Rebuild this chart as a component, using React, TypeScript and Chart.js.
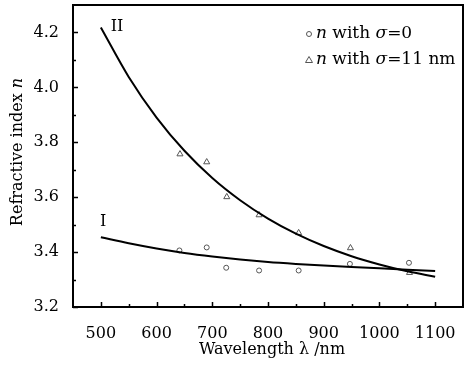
import React, { useEffect, useRef } from "react";
import { Chart, registerables } from "chart.js";

Chart.register(...registerables);

const xTicks = [500, 600, 700, 800, 900, 1000, 1100];
const yTicks = [3.2, 3.4, 3.6, 3.8, 4.0, 4.2];

const circX = [641, 690, 725, 784, 855, 947, 1053];
const circY = [3.406, 3.417, 3.343, 3.333, 3.333, 3.357, 3.361];
const triX = [642, 690, 726, 784, 855, 948, 1054];
const triY = [3.757, 3.728, 3.601, 3.535, 3.47, 3.415, 3.325];

const curveX = [500, 550, 600, 650, 700, 750, 800, 850, 900, 950, 1000, 1050, 1100];
const curveII = [4.218, 4.038, 3.89, 3.769, 3.67, 3.589, 3.522, 3.467, 3.422, 3.385, 3.355, 3.33, 3.31];
const curveI = [3.454, 3.432, 3.413, 3.397, 3.384, 3.373, 3.364, 3.357, 3.351, 3.346, 3.341, 3.336, 3.331];

const FONT = "DejaVu Serif";

const decorPlugin = {
  id: "decor",
  afterDraw(chart: any) {
    const ctx = chart.ctx;
    const { left, right, top, bottom } = chart.chartArea;
    const xs = chart.scales.x;
    const ys = chart.scales.y;
    ctx.save();
    ctx.strokeStyle = "#000";
    ctx.lineWidth = 1.5;
    ctx.beginPath();
    for (let v = 500; v <= 1100; v += 50) {
      const px = Math.round(xs.getPixelForValue(v)) + 0.5;
      const len = v % 100 === 0 ? 5 : 3;
      ctx.moveTo(px, bottom);
      ctx.lineTo(px, bottom - len);
    }
    for (let i = 0; i <= 10; i++) {
      const v = 3.2 + i * 0.1;
      const py = Math.round(ys.getPixelForValue(v)) + 0.5;
      const len = i % 2 === 0 ? 5 : 3;
      ctx.moveTo(left, py);
      ctx.lineTo(left + len, py);
    }
    ctx.stroke();
    ctx.lineWidth = 2;
    ctx.strokeRect(left, top, right - left, bottom - top);

    const drawSegs = (segs: [string, boolean][], x: number, y: number, align: string, size: number) => {
      let total = 0;
      const widths = segs.map(([t, it]) => {
        ctx.font = `${it ? "italic " : ""}${size}px "${FONT}"`;
        const w = ctx.measureText(t).width;
        total += w;
        return w;
      });
      let cx = align === "center" ? x - total / 2 : x;
      ctx.textAlign = "left";
      ctx.textBaseline = "middle";
      segs.forEach(([t, it], i) => {
        ctx.font = `${it ? "italic " : ""}${size}px "${FONT}"`;
        ctx.fillText(t, cx, y);
        cx += widths[i];
      });
    };
    ctx.fillStyle = "#000";

    drawSegs([["Wavelength ", false], ["λ", false], [" /nm", false]], 272, 350, "center", 16);
    ctx.save();
    ctx.translate(18, 152);
    ctx.rotate(-Math.PI / 2);
    drawSegs([["Refractive index ", false], ["n", true]], 0, 0, "center", 16);
    ctx.restore();

    ctx.font = `16px "${FONT}"`;
    ctx.textAlign = "center";
    ctx.textBaseline = "middle";
    ctx.fillText("II", xs.getPixelForValue(529), ys.getPixelForValue(4.22));
    ctx.fillText("I", xs.getPixelForValue(504), ys.getPixelForValue(3.51));

    const lx = 309;
    const l1 = 34;
    const l2 = 60;
    ctx.strokeStyle = "#555";
    ctx.lineWidth = 1;
    ctx.beginPath();
    ctx.arc(lx, l1, 2.5, 0, Math.PI * 2);
    ctx.stroke();
    ctx.beginPath();
    ctx.moveTo(lx, l2 - 3.5);
    ctx.lineTo(lx + 3.5, l2 + 2.5);
    ctx.lineTo(lx - 3.5, l2 + 2.5);
    ctx.closePath();
    ctx.stroke();
    ctx.fillStyle = "#000";
    drawSegs([["n", true], [" with ", false], ["σ", true], ["=0", false]], 316, l1, "left", 17);
    drawSegs([["n", true], [" with ", false], ["σ", true], ["=11 nm", false]], 316, l2, "left", 17);
    ctx.restore();
  },
};

export default function App() {
  const ref = useRef<HTMLCanvasElement>(null);
  useEffect(() => {
    document.body.style.margin = "0";
    const chart = new Chart(ref.current!, {
      type: "scatter",
      data: {
        datasets: [
          {
            type: "line",
            data: curveX.map((x, i) => ({ x, y: curveII[i] })),
            borderColor: "#000",
            borderWidth: 2,
            pointRadius: 0,
            cubicInterpolationMode: "monotone",
            fill: false,
          } as any,
          {
            type: "line",
            data: curveX.map((x, i) => ({ x, y: curveI[i] })),
            borderColor: "#000",
            borderWidth: 2,
            pointRadius: 0,
            cubicInterpolationMode: "monotone",
            fill: false,
          } as any,
          {
            data: circX.map((x, i) => ({ x, y: circY[i] })),
            pointStyle: "circle",
            pointRadius: 2.5,
            borderColor: "#555",
            borderWidth: 1,
            backgroundColor: "rgba(0,0,0,0)",
          },
          {
            data: triX.map((x, i) => ({ x, y: triY[i] })),
            pointStyle: "triangle",
            pointRadius: 3.5,
            borderColor: "#555",
            borderWidth: 1,
            backgroundColor: "rgba(0,0,0,0)",
          },
        ],
      },
      options: {
        animation: false,
        responsive: true,
        maintainAspectRatio: false,
        layout: { padding: { top: 3, right: 11, left: 0, bottom: 0 } },
        plugins: { legend: { display: false }, tooltip: { enabled: false } },
        scales: {
          x: {
            type: "linear",
            min: 450,
            max: 1150,
            grid: { display: false },
            border: { display: false },
            afterBuildTicks: (s: any) => {
              s.ticks = xTicks.map((v) => ({ value: v }));
            },
            afterFit: (s: any) => {
              s.height = 59;
              s.paddingLeft = 0;
              s.paddingRight = 0;
            },
            ticks: {
              padding: 9,
              color: "#000",
              font: { family: FONT, size: 16 },
              callback: (v: any) => String(v),
            },
          },
          y: {
            type: "linear",
            min: 3.2,
            max: 4.3,
            grid: { display: false },
            border: { display: false },
            afterBuildTicks: (s: any) => {
              s.ticks = yTicks.map((v) => ({ value: v }));
            },
            afterFit: (s: any) => {
              s.width = 73;
              s.paddingTop = 0;
              s.paddingBottom = 0;
            },
            ticks: {
              padding: 6,
              color: "#000",
              font: { family: FONT, size: 16 },
              callback: (v: any) => Number(v).toFixed(1),
            },
          },
        },
      },
      plugins: [decorPlugin],
    });
    return () => chart.destroy();
  }, []);
  return (
    <div style={{ width: 474, height: 366, position: "relative" }}>
      <canvas ref={ref} />
    </div>
  );
}
